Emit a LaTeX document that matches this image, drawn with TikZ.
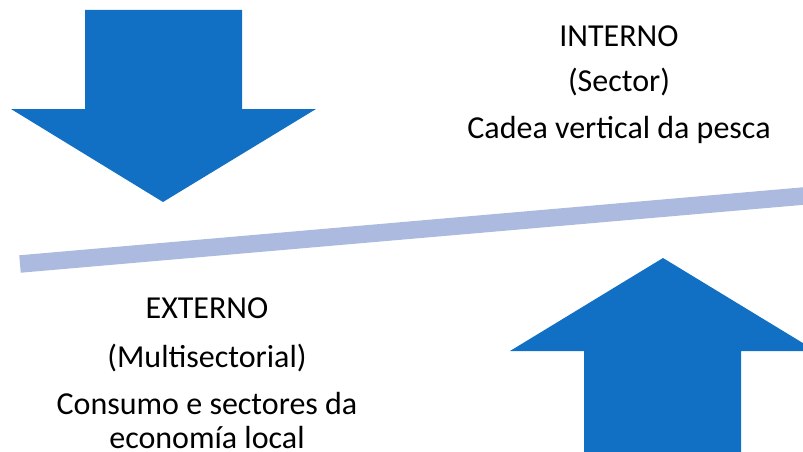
\documentclass[tikz,border=0pt]{standalone}
\usepackage{fontspec}
\setmainfont{Carlito}
\usetikzlibrary{calc}
\definecolor{arrowblue}{HTML}{1170C4}
\definecolor{beamblue}{HTML}{ABBADE}
\begin{document}
\begin{tikzpicture}[x = 1pt, y = -1pt, txt/.style = {anchor = base, inner sep = 0pt, font = \fontsize{32}{38}\selectfont}]
    \useasboundingbox(0,0)rectangle(803,452);
    \clip(0,0)rectangle(803,452);
    % vector
    \coordinate(V)at(0,1);
    \coordinate(h)at(1,0);
    % beam
    \coordinate(L)at(20,264);
    \coordinate(R)at(812,195.3);
    \path[draw, line width = 17.5pt, beamblue](L)to(R);
    % arrow down
    \coordinate(tipA)at(163,202);
    \coordinate(neckA)at($(tipA)-93*(V)$);
    \path[fill = arrowblue]($(neckA)-78*(h)$)--($(neckA)-78*(h)-99*(V)$)--($(neckA)+79*(h)-99*(V)$)
        --($(neckA)+79*(h)$)--($(neckA)+153*(h)$)--(tipA)--($(neckA)-152*(h)$)--cycle;
    % arrow up
    \coordinate(tipB)at(663,258);
    \coordinate(neckB)at($(tipB)+93*(V)$);
    \path[fill = arrowblue]($(neckB)-79*(h)$)--($(neckB)-79*(h)+105*(V)$)--($(neckB)+78*(h)+105*(V)$)
        --($(neckB)+78*(h)$)--($(neckB)+153*(h)$)--(tipB)--($(neckB)-153*(h)$)--cycle;
    % internal
    \node[txt](interno)at(619,47){INTERNO};
    \node[txt](sector)at($(interno.base)+45*(V)$){(Sector)};
    \node[txt](cadea)at($(sector.base)+46*(V)$){Cadea vertical da pesca};
    % external
    \node[txt](externo)at(207,318){EXTERNO};
    \node[txt](multi)at($(externo.base)+49*(V)$){(Multisectorial)};
    \node[txt](consumo)at($(multi.base)+47*(V)$){Consumo e sectores da};
    \node[txt](economia)at($(consumo.base)+34*(V)$){economía local};
\end{tikzpicture}
\end{document}
